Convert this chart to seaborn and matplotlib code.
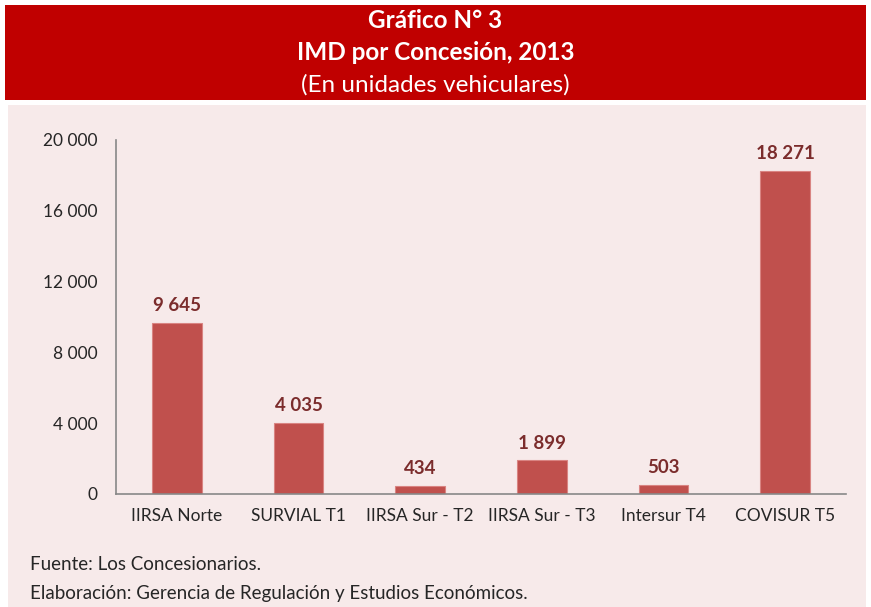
import pandas as pd
import seaborn as sns
import matplotlib.pyplot as plt
from matplotlib.patches import Rectangle

concesiones = ['IIRSA Norte', 'SURVIAL T1', 'IIRSA Sur - T2', 'IIRSA Sur - T3', 'Intersur T4', 'COVISUR T5']
imd = [9645, 4035, 434, 1899, 503, 18271]
yticks = [0, 4000, 8000, 12000, 16000, 20000]

df = pd.DataFrame({'Concesion': concesiones, 'IMD': imd})

def miles(v):
    return f'{v:,.0f}'.replace(',', ' ')

sns.set_style('white')
plt.rcParams['font.family'] = ['Lato', 'DejaVu Sans']

fig = plt.figure(figsize=(8.71, 6.07), dpi=100)
W, H = 871, 607

# banner rojo y fondo rosado
fig.patches.append(Rectangle((5 / W, 1 - 100 / H), 861 / W, 95 / H, transform=fig.transFigure,
                             facecolor='#C00000', edgecolor='none', zorder=-5))
fig.patches.append(Rectangle((8 / W, 0), 858 / W, 1 - 105 / H, transform=fig.transFigure,
                             facecolor='#F7EAEA', edgecolor='none', zorder=-5))

fig.text(0.5, 1 - 20 / H, 'Gráfico N° 3', ha='center', va='center', color='white', fontsize=17.5, fontweight='bold')
fig.text(0.5, 1 - 52 / H, 'IMD por Concesión, 2013', ha='center', va='center', color='white', fontsize=17.5, fontweight='bold')
fig.text(0.5, 1 - 85 / H, '(En unidades vehiculares)', ha='center', va='center', color='white', fontsize=17.5)

ax = fig.add_axes([116 / W, 1 - 494 / H, 730 / W, 354 / H])
ax.set_zorder(2)
ax.set_facecolor('none')
sns.barplot(data=df, x='Concesion', y='IMD', color='#C0504D', saturation=1, width=0.41,
            edgecolor='#D98482', linewidth=0.8, ax=ax)

for i, v in enumerate(imd):
    ax.text(i, v + 500, miles(v), ha='center', va='bottom', color='#7B2C2C', fontsize=13.5, fontweight='bold')

ax.set_ylim(0, 20000)
ax.set_xlim(-0.5, len(concesiones) - 0.5)
ax.set_yticks(yticks)
ax.set_yticklabels([miles(t) for t in yticks], fontsize=12.5)
ax.set_xticks([i - 0.5 for i in range(len(concesiones) + 1)], minor=False)
ax.set_xticklabels([])
ax.set_xticks(range(len(concesiones)), minor=True)
ax.set_xticklabels(concesiones, minor=True, fontsize=12.5)
ax.tick_params(axis='x', which='minor', length=0, pad=10)
ax.tick_params(axis='x', which='major', length=5, color='#888888', direction='out')
ax.tick_params(axis='y', length=5, color='#888888', direction='out', pad=8)
ax.set_xlabel('')
ax.set_ylabel('')
sns.despine(ax=ax, top=True, right=True)
for s in ['left', 'bottom']:
    ax.spines[s].set_color('#888888')
    ax.spines[s].set_linewidth(1.2)

fig.text(30 / W, 1 - 565 / H, 'Fuente: Los Concesionarios.', ha='left', va='center', fontsize=13.5)
fig.text(30 / W, 1 - 594 / H, 'Elaboración: Gerencia de Regulación y Estudios Económicos.', ha='left', va='center', fontsize=13.5)

fig.savefig('out.png', dpi=100)
